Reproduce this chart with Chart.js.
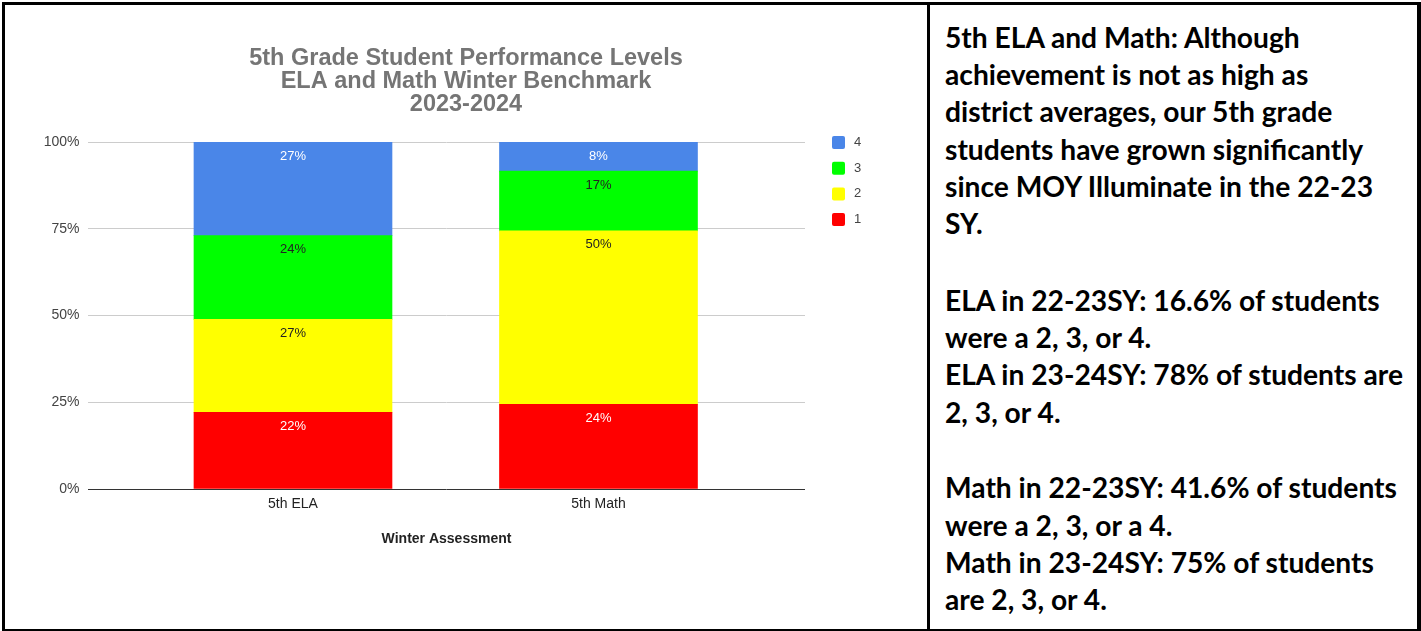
<!DOCTYPE html>
<html>
<head>
<meta charset="utf-8">
<script src="https://cdn.jsdelivr.net/npm/chart.js@4.4.1/dist/chart.umd.min.js"></script>
<style>
html,body{margin:0;padding:0;background:#fff;width:1421px;height:631px;overflow:hidden;position:relative;}
.b{position:absolute;background:#000;}
#wrap{position:absolute;left:5px;top:5px;width:922px;height:624px;}
.blk{position:absolute;left:945px;font-family:Lato,"Open Sans",sans-serif;font-weight:700;color:#000;white-space:pre;}
</style>
</head>
<body>
<div id="wrap"><canvas id="c" width="922" height="624"></canvas></div>
<div class="b" style="left:2px;top:2px;width:1419px;height:3px"></div>
<div class="b" style="left:2px;top:2px;width:3px;height:629px"></div>
<div class="b" style="left:1417px;top:2px;width:4px;height:629px"></div>
<div class="b" style="left:2px;top:629px;width:1419px;height:2px"></div>
<div class="b" style="left:927px;top:2px;width:3px;height:629px"></div>
<div id="txt"></div>
<script>
// ---- data ----
const categories = ['5th ELA', '5th Math'];
const levelNames = ['1', '2', '3', '4'];
const level1 = [22.1, 24.4];
const level2 = [26.8, 50.0];
const level3 = [24.1, 17.2];
const level4 = [27.0, 8.4];
const yTickValues = [0, 25, 50, 75, 100];
const titleLines = ['5th Grade Student Performance Levels', 'ELA and Math Winter Benchmark', '2023-2024'];
const xAxisTitle = 'Winter Assessment';
const noteParagraph1 = [
  '5th ELA and Math: Although',
  'achievement is not as high as',
  'district averages, our 5th grade',
  'students have grown significantly',
  'since MOY Illuminate in the 22-23',
  'SY.'
];
const noteParagraph2 = [
  'ELA in 22-23SY: 16.6% of students',
  'were a 2, 3, or 4.',
  'ELA in 23-24SY: 78% of students are',
  '2, 3, or 4.'
];
const noteParagraph3 = [
  'Math in 22-23SY: 41.6% of students',
  'were a 2, 3, or a 4.',
  'Math in 23-24SY: 75% of students',
  'are 2, 3, or 4.'
];

// ---- styles ----
const seriesColors = ['#ff0000', '#ffff00', '#00ff00', '#4a86e8'];
const labelColors = ['#ffffff', '#222222', '#222222', '#ffffff'];
const FONT = '"Liberation Sans", Arial, sans-serif';

// ---- right-hand text ----
(function(){
  const holder = document.getElementById('txt');
  const mc = document.createElement('canvas').getContext('2d');
  const fam = 'Lato';
  mc.font = '700 26px ' + fam;
  const w = mc.measureText('students have grown significantly').width +
            mc.measureText('ELA in 23-24SY: 78% of students are').width +
            mc.measureText('Math in 22-23SY: 41.6% of students').width;
  const fs = 26 * (426 + 453 + 452) / w;
  mc.font = '700 ' + fs + 'px ' + fam;
  const m = mc.measureText('M');
  const asc = m.fontBoundingBoxAscent, desc = m.fontBoundingBoxDescent;
  const LH = 37.2;
  const baseOff = (LH - (asc + desc)) / 2 + asc;
  const blocks = [[noteParagraph1, 48.5], [noteParagraph2, 311.5], [noteParagraph3, 499]];
  blocks.forEach(([lines, base]) => {
    const d = document.createElement('div');
    d.className = 'blk';
    d.style.fontSize = fs + 'px';
    d.style.lineHeight = LH + 'px';
    d.style.top = (base - baseOff) + 'px';
    d.textContent = lines.join('\n');
    holder.appendChild(d);
  });
})();

// ---- plugins ----
const valueLabels = {
  id: 'valueLabels',
  afterDatasetsDraw(chart) {
    const ctx = chart.ctx;
    ctx.save();
    ctx.font = '13px ' + FONT;
    ctx.textAlign = 'center';
    ctx.textBaseline = 'middle';
    chart.data.datasets.forEach((ds, i) => {
      const meta = chart.getDatasetMeta(i);
      meta.data.forEach((el, j) => {
        const v = ds.data[j].y;
        const top = Math.min(el.y, el.base);
        ctx.fillStyle = labelColors[i];
        ctx.fillText(Math.round(v) + '%', el.x, top + 14);
      });
    });
    ctx.restore();
  }
};
const sideLegend = {
  id: 'sideLegend',
  afterDraw(chart) {
    const ctx = chart.ctx;
    const area = chart.chartArea;
    ctx.save();
    ctx.font = '13px ' + FONT;
    ctx.textBaseline = 'middle';
    ctx.textAlign = 'left';
    const dsets = chart.data.datasets.slice().reverse();
    dsets.forEach((ds, k) => {
      const cy = area.top + 0.5 + k * 25.7;
      const bx = area.right + 27;
      ctx.fillStyle = ds.backgroundColor;
      ctx.beginPath();
      ctx.roundRect(bx, cy - 6.5, 13, 13, 2);
      ctx.fill();
      ctx.fillStyle = '#444444';
      ctx.fillText(ds.label, bx + 22, cy);
    });
    ctx.restore();
  }
};

const seriesData = [level1, level2, level3, level4];
const datasets = seriesData.map((arr, i) => ({
  label: levelNames[i],
  data: arr.map((v, j) => ({ x: j, y: v })),
  backgroundColor: seriesColors[i],
  borderWidth: 0,
  barThickness: 198
}));

new Chart(document.getElementById('c'), {
  type: 'bar',
  data: { datasets },
  plugins: [valueLabels, sideLegend],
  options: {
    responsive: false,
    animation: false,
    devicePixelRatio: 1,
    layout: { padding: 0 },
    plugins: {
      legend: { display: false },
      tooltip: { enabled: false },
      title: {
        display: true,
        text: titleLines,
        color: '#757575',
        font: { family: FONT, size: 23.5, weight: 'bold', lineHeight: 23 / 23.5 },
        padding: { top: 42, bottom: 26 }
      }
    },
    scales: {
      x: {
        type: 'linear',
        stacked: true,
        offset: false,
        min: -0.671,
        max: 1.676,
        grid: { display: false, drawTicks: false },
        border: { display: false },
        afterBuildTicks: s => { s.ticks = categories.map((c, i) => ({ value: i })); },
        ticks: {
          callback: v => categories[v],
          font: { family: FONT, size: 14 },
          color: '#222222',
          padding: 6.5,
          maxRotation: 0,
          autoSkip: false
        },
        title: {
          display: true,
          text: xAxisTitle,
          color: '#222222',
          font: { family: FONT, size: 14, weight: 'bold' },
          padding: { top: 10, bottom: 81.6 }
        },
        afterFit: s => { s.height = 140; }
      },
      y: {
        stacked: true,
        min: 0,
        max: 100,
        afterBuildTicks: s => { s.ticks = yTickValues.map(v => ({ value: v })); },
        ticks: {
          callback: v => v + '%',
          font: { family: FONT, size: 14 },
          color: '#444444',
          padding: 8.5
        },
        grid: {
          drawTicks: false,
          color: c => (c.tick && c.tick.value === 0) ? '#333333' : '#cccccc',
          lineWidth: 1
        },
        border: { display: false },
        afterFit: s => { s.width = 83; }
      },
      spacer: {
        type: 'linear',
        axis: 'y',
        position: 'right',
        display: true,
        grid: { display: false, drawTicks: false },
        ticks: { display: false },
        border: { display: false },
        afterFit: s => { s.width = 122; }
      }
    }
  }
});
</script>
</body>
</html>
